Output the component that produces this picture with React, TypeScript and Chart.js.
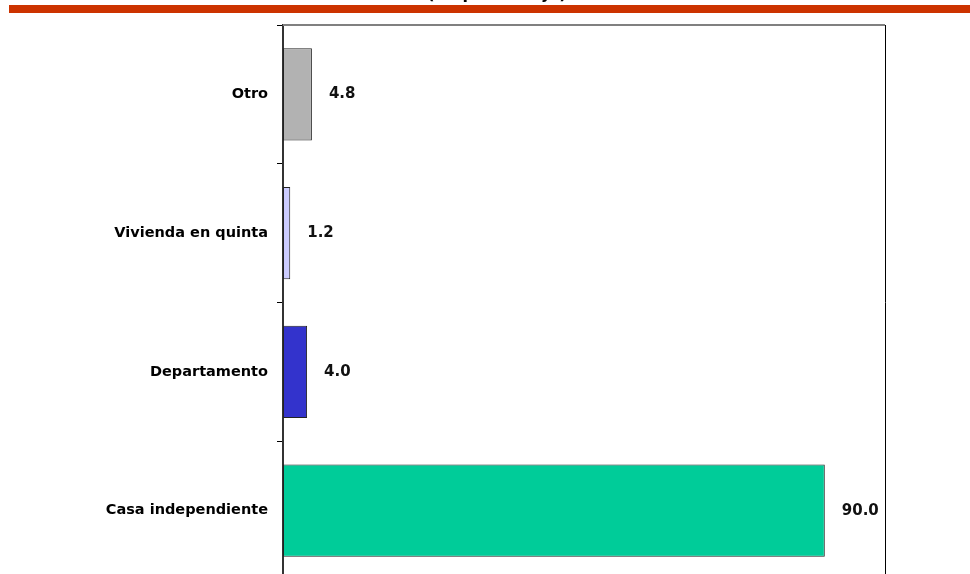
import React, { useEffect, useRef } from "react";
import { Chart, registerables } from "chart.js";

Chart.register(...registerables);

const categories = ["Otro", "Vivienda en quinta", "Departamento", "Casa independiente"];
const values = [4.8, 1.2, 4.0, 90.0];
const valueLabels = ["4.8", "1.2", "4.0", "90.0"];
const barColors = ["#B2B2B2", "#CCCCFF", "#3333CC", "#00CC99"];
const titleText = "(En porcentaje)";
const xMax = 100;

const FONT = "'DejaVu Sans', Verdana, sans-serif";

export default function App() {
  const ref = useRef<HTMLCanvasElement | null>(null);

  useEffect(() => {
    if (!ref.current) return;
    const decor = {
      id: "decor",
      afterDraw(chart: any) {
        const ctx = chart.ctx;
        const a = chart.chartArea;
        ctx.save();
        // header red band
        ctx.fillStyle = "#CC3300";
        ctx.fillRect(9, 5, 961, 8);
        // cut-off title
        ctx.fillStyle = "#000";
        ctx.font = `bold 16px ${FONT}`;
        ctx.textAlign = "center";
        ctx.textBaseline = "alphabetic";
        ctx.fillText(titleText, 497, -1);
        // plot frame top and right
        ctx.strokeStyle = "#808080";
        ctx.lineWidth = 2;
        ctx.beginPath();
        ctx.moveTo(a.left, a.top);
        ctx.lineTo(a.right, a.top);
        ctx.stroke();
        ctx.strokeStyle = "#000";
        ctx.lineWidth = 1;
        ctx.beginPath();
        ctx.moveTo(a.right + 0.5, a.top);
        ctx.lineTo(a.right + 0.5, a.bottom);
        ctx.stroke();
        // value labels
        const meta = chart.getDatasetMeta(0);
        ctx.font = `bold 15px ${FONT}`;
        ctx.textAlign = "left";
        ctx.textBaseline = "middle";
        ctx.fillStyle = "#111";
        meta.data.forEach((el: any, i: number) => {
          ctx.fillText(valueLabels[i], el.x + 17, el.y);
        });
        ctx.restore();
      },
    };

    const chart = new Chart(ref.current, {
      type: "bar",
      data: {
        labels: categories,
        datasets: [
          {
            data: values,
            backgroundColor: barColors,
            borderColor: "#222",
            borderWidth: 1,
            borderSkipped: false,
            categoryPercentage: 1,
            barPercentage: 0.665,
          },
        ],
      },
      options: {
        indexAxis: "y",
        animation: false,
        responsive: false,
        maintainAspectRatio: false,
        layout: { padding: { top: 25, right: 85, bottom: 20, left: 0 } },
        plugins: { legend: { display: false }, tooltip: { enabled: false }, title: { display: false } },
        scales: {
          x: {
            display: false,
            min: 0,
            max: xMax,
          },
          y: {
            afterFit(scale: any) {
              scale.width = 283;
            },
            grid: {
              offset: true,
              drawOnChartArea: false,
              drawTicks: true,
              tickLength: 6,
              color: "#000",
            },
            border: { display: true, color: "#333", width: 2 },
            ticks: {
              padding: 9,
              color: "#000",
              font: { family: FONT, size: 14.5, weight: "bold" },
            },
          },
        },
      },
      plugins: [decor],
    });
    return () => chart.destroy();
  }, []);

  return (
    <div style={{ position: "fixed", left: 0, top: 0, width: 970, height: 574, overflow: "hidden", background: "#fff" }}>
      <canvas ref={ref} width={970} height={600} style={{ display: "block", width: 970, height: 600 }} />
    </div>
  );
}
